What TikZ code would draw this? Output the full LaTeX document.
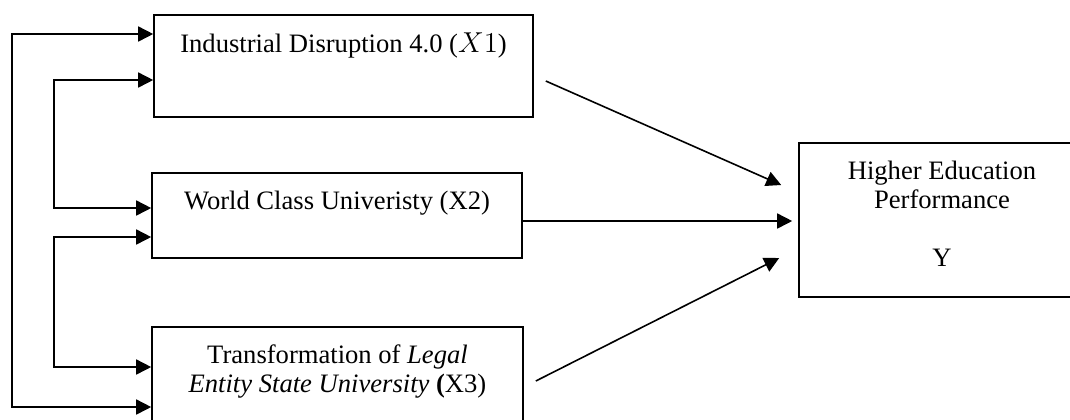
\documentclass[tikz,border=0pt]{standalone}
\usepackage{fontspec}
\setmainfont{Liberation Serif}
\usetikzlibrary{positioning,arrows.meta}
\tikzset{tri/.tip={Triangle[length=7.5pt,width=7.5pt]}}

\begin{document}
\begin{tikzpicture}[x=0.5pt,y=-0.5pt,line width=0.8pt,
        box/.style={draw,inner sep=0pt},
        lbl/.style={inner sep=0pt,align=center,font=\fontsize{13.3}{14.5}\selectfont}]
        \useasboundingbox (0,0) rectangle (1070,419);
        \clip (0,0) rectangle (1070,419);
        % variable boxes
        \node[box,minimum width=189.5pt,minimum height=51pt] (x1) at (343.5,66) {};
        \node[box,minimum width=185pt,minimum height=42.5pt] (x2) at (337,215.5) {};
        \node[box,minimum width=185.5pt,minimum height=56.5pt] (x3) at (337.5,383.5) {};
        \node[box,minimum width=143pt,minimum height=77pt] (y) at (942,220) {};
        \node[lbl,below=9pt of x1.north] (x1t) {Industrial Disruption 4.0 ($X1$)};
        \node[lbl,below=9pt of x2.north] (x2t) {World Class Univeristy (X2)};
        \node[lbl,below=9pt of x3.north] (x3t) {Transformation of \textit{Legal}\\\textit{Entity State University} \textbf{(}X3)};
        \node[lbl,below=9pt of y.north] (yt) {Higher Education\\Performance\\[14.5pt]Y};
        % correlations on the left
        \coordinate (o1) at (12,34);
        \coordinate (o2) at (12,407);
        \coordinate (i1) at (54,80);
        \coordinate (i2) at (54,208);
        \coordinate (i3) at (54,237);
        \coordinate (i4) at (54,367);
        \draw[tri-tri] (x1.west |- o1) -- (o1) -- (o2) -- (x3.west |- o2);
        \draw[tri-tri] (x1.west |- i1) -- (i1) -- (i2) -- (x2.west |- i2);
        \draw[tri-tri] (x2.west |- i3) -- (i3) -- (i4) -- (x3.west |- i4);
        % effects on Y
        \draw[-tri] ([shift={(12,15)}]x1.east) -- ([shift={(-17,-35)}]y.west);
        \draw[-tri] ([shift={(0,5.5)}]x2.east) -- ([shift={(-6,1)}]y.west);
        \draw[-tri] ([shift={(12,-2.5)}]x3.east) -- ([shift={(-19,38)}]y.west);
\end{tikzpicture}
\end{document}
